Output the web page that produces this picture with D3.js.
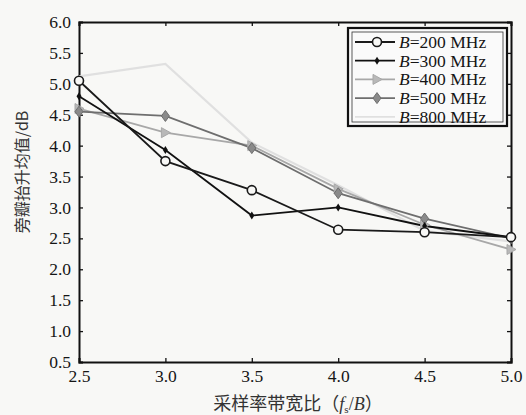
<!DOCTYPE html>
<html>
<head>
<meta charset="utf-8">
<script src="https://cdn.jsdelivr.net/npm/d3@7"></script>
<style>
  body { margin: 0; background: #f8f8f6; }
</style>
</head>
<body>
<div id="chart"></div>
<script>
// data
const ratios = [2.5, 3.0, 3.5, 4.0, 4.5, 5.0];
const b200 = [5.05, 3.75, 3.28, 2.64, 2.60, 2.52];
const b300 = [4.80, 3.93, 2.87, 3.00, 2.70, 2.52];
const b400 = [4.60, 4.21, 4.00, 3.30, 2.72, 2.32];
const b500 = [4.55, 4.48, 3.96, 3.23, 2.82, 2.50];
const b800 = [5.12, 5.32, 4.05, 3.36, 2.62, 2.45];
const seriesNames = ["200", "300", "400", "500", "800"];
const yTicks = [0.5, 1.0, 1.5, 2.0, 2.5, 3.0, 3.5, 4.0, 4.5, 5.0, 5.5, 6.0];
const xTicks = [2.5, 3.0, 3.5, 4.0, 4.5, 5.0];

const serif = "Liberation Serif";
const cjk = "Noto Sans CJK SC";

const series = [
  {name: seriesNames[0], values: b200, color: "#1a1a1a", marker: "circle"},
  {name: seriesNames[1], values: b300, color: "#111", marker: "diamondSmall"},
  {name: seriesNames[2], values: b400, color: "#a8a8a8", marker: "triangle"},
  {name: seriesNames[3], values: b500, color: "#6e6e6e", marker: "diamond"},
  {name: seriesNames[4], values: b800, color: "#e0e0e0", marker: "none"}
];

const W = 526, H = 415;
const margin = {top: 22, right: 15, bottom: 53, left: 79};
const width = W - margin.left - margin.right,
      height = H - margin.top - margin.bottom;

const svg = d3.select("#chart").append("svg")
    .attr("width", W).attr("height", H);
const g = svg.append("g")
    .attr("transform", `translate(${margin.left},${margin.top})`);

const x = d3.scaleLinear().domain([2.5, 5.0]).range([0, width]);
const y = d3.scaleLinear().domain([0.5, 6.0]).range([height, 0]);

// axes, ticks pointing inward on all four sides
const fmt = d3.format(".1f");
const xAxis = g.append("g").attr("transform", `translate(0,${height})`)
  .call(d3.axisBottom(x).tickValues(xTicks).tickFormat(fmt).tickSize(-4).tickPadding(8));
const xTop = g.append("g")
  .call(d3.axisTop(x).tickValues(xTicks).tickFormat("").tickSize(-4));
const yAxis = g.append("g")
  .call(d3.axisLeft(y).tickValues(yTicks).tickFormat(fmt).tickSize(-4).tickPadding(8));
const yRight = g.append("g").attr("transform", `translate(${width},0)`)
  .call(d3.axisRight(y).tickValues(yTicks).tickFormat("").tickSize(-4));

[xAxis, xTop, yAxis, yRight].forEach(a => {
  a.attr("font-family", serif).attr("font-size", 17.5);
  a.select(".domain").attr("stroke", "#111").attr("stroke-width", 2);
  a.selectAll(".tick line").attr("stroke", "#111").attr("stroke-width", 1.3);
  a.selectAll(".tick text").attr("fill", "#151515")
    .attr("font-family", serif).attr("font-size", 17.5);
});

// lines
const line = d3.line()
  .x((d, i) => x(ratios[i]))
  .y(d => y(d));

// draw the lightest first so dark ones sit on top
const order = [4, 2, 3, 1, 0];
order.forEach(k => {
  const s = series[k];
  g.append("path")
    .datum(s.values)
    .attr("fill", "none")
    .attr("stroke", s.color)
    .attr("stroke-width", k === 4 ? 2.2 : 1.8)
    .attr("d", line);
});

function drawMarker(sel, s, cx, cy) {
  if (s.marker === "circle") {
    sel.append("circle").attr("cx", cx).attr("cy", cy).attr("r", 4.5)
      .attr("fill", "#f8f8f6").attr("stroke", s.color).attr("stroke-width", 1.6);
  } else if (s.marker === "diamondSmall") {
    sel.append("path")
      .attr("d", `M${cx},${cy-4}L${cx+2.5},${cy}L${cx},${cy+4}L${cx-2.5},${cy}Z`)
      .attr("fill", s.color);
  } else if (s.marker === "triangle") {
    sel.append("path")
      .attr("d", `M${cx-4},${cy-5}L${cx+5},${cy}L${cx-4},${cy+5}Z`)
      .attr("fill", "#b8b8b8").attr("stroke", s.color).attr("stroke-width", 1);
  } else if (s.marker === "diamond") {
    sel.append("path")
      .attr("d", `M${cx},${cy-5.5}L${cx+4},${cy}L${cx},${cy+5.5}L${cx-4},${cy}Z`)
      .attr("fill", "#8a8a8a").attr("stroke", s.color).attr("stroke-width", 1);
  }
}

order.forEach(k => {
  const s = series[k];
  s.values.forEach((v, i) => drawMarker(g, s, x(ratios[i]), y(v)));
});

// legend
const leg = svg.append("g").attr("transform", "translate(348,28)");
leg.append("rect").attr("width", 159).attr("height", 98)
  .attr("fill", "#fafafa").attr("stroke", "#111").attr("stroke-width", 2.2);
leg.append("rect").attr("x", 4).attr("y", 4).attr("width", 151).attr("height", 90)
  .attr("fill", "none").attr("stroke", "#333").attr("stroke-width", 0.8);
series.forEach((s, i) => {
  const ly = 14 + i * 18.7;
  leg.append("line").attr("x1", 7).attr("x2", 47).attr("y1", ly).attr("y2", ly)
    .attr("stroke", s.color).attr("stroke-width", 1.8);
  drawMarker(leg, s, 29, ly);
  const t = leg.append("text").attr("x", 51).attr("y", ly + 6)
    .attr("font-family", serif).attr("font-size", 17.5).attr("fill", "#151515");
  t.append("tspan").attr("font-style", "italic").text("B");
  t.append("tspan").text(`=${s.name} MHz`);
});

// axis titles
svg.append("text")
  .attr("transform", `translate(28,172) rotate(-90)`)
  .attr("text-anchor", "middle")
  .attr("font-family", cjk)
  .attr("font-size", 16).attr("fill", "#333")
  .text("旁瓣抬升均值/dB");

const xt = svg.append("text")
  .attr("x", 298).attr("y", 410)
  .attr("text-anchor", "middle")
  .attr("font-family", serif)
  .attr("font-size", 18).attr("fill", "#333");
xt.append("tspan").attr("font-family", cjk).text("采样率带宽比（");
xt.append("tspan").attr("font-style", "italic").text("f");
xt.append("tspan").attr("dy", 3).attr("font-size", 11).text("s");
xt.append("tspan").attr("dy", -3).text("/");
xt.append("tspan").attr("font-style", "italic").text("B");
xt.append("tspan").attr("font-family", cjk).text("）");
</script>
</body>
</html>
